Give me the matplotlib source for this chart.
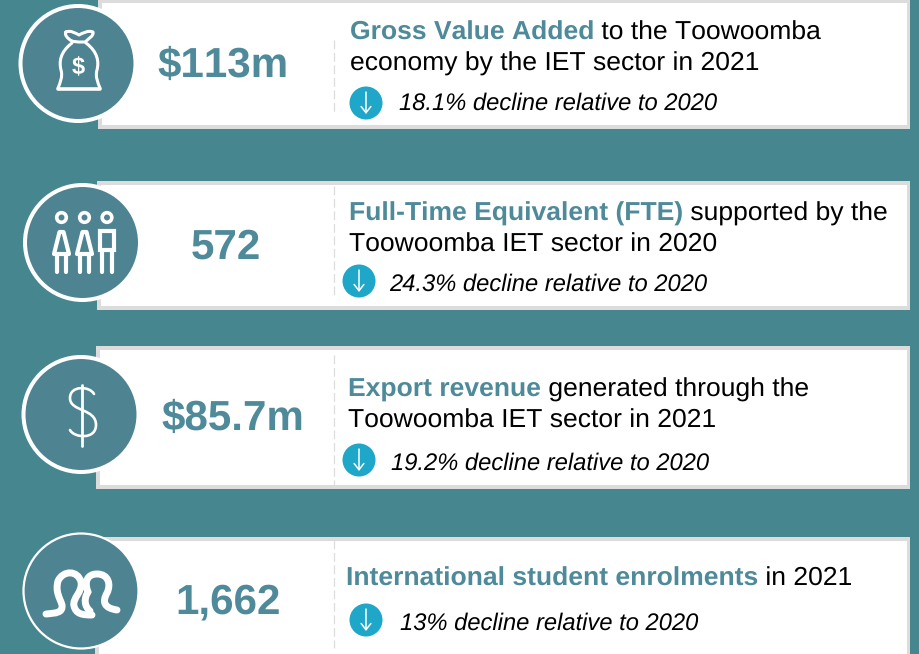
import matplotlib
matplotlib.use("Agg")
import matplotlib.pyplot as plt
from matplotlib.patches import Circle, Rectangle, PathPatch, Polygon
from matplotlib.path import Path

plt.rcParams['font.family'] = ['Liberation Sans', 'DejaVu Sans']
plt.rcParams['text.hinting'] = 'none'
plt.rcParams['text.hinting_factor'] = 8
plt.rcParams['text.kerning_factor'] = 8

TEAL = "#45868f"
CIRCLE = "#4e8391"
HIGHLIGHT = "#4e8a99"
GREY = "#dcdcdc"
BLUE = "#1fa7c9"

# card contents
values = ["$113m", "572", "$85.7m", "1,662"]
bold_text = ["Gross Value Added", "Full-Time Equivalent (FTE)", "Export revenue", "International student enrolments"]
rest_text = [" to the Toowoomba", " supported by the", " generated through the", " in 2021"]
second_line = ["economy by the IET sector in 2021", "Toowoomba IET sector in 2020", "Toowoomba IET sector in 2021", ""]
declines = ["18.1% decline relative to 2020", "24.3% decline relative to 2020",
            "19.2% decline relative to 2020", "13% decline relative to 2020"]

# layout, all in pixels of the 919x654 picture
card_left = [98, 97, 96, 95]
card_top = [-1, 181, 346, 537]
card_bottom = [129, 310, 489, 670]
circle_x = [78, 82.5, 81, 81]
circle_y = [63.5, 242.5, 414.5, 591]
circle_lw = [2.9, 2.9, 2.9, 1.6]
value_x = [223, 226, 233, 228]
value_y = [77, 259, 430, 614]
text_x = [350, 349, 348, 346]
line1_y = [40, 221, 397, 586]
line2_y = [71, 252, 428, 0]
arrow_x = [366, 359, 359, 366]
arrow_y = [103, 281, 460, 620]
decline_x = [399, 389, 391, 400]
decline_y = [110, 291, 470, 630]
dash_top = [40, 186, 355, 540]
dash_bottom = [114, 298, 485, 648]


def curve(ax, verts, lw):
    codes = [Path.MOVETO] + [Path.CURVE4] * (len(verts) - 1)
    ax.add_patch(PathPatch(Path(verts, codes), fill=False, ec="white", lw=lw,
                           capstyle="round", joinstyle="round", zorder=5))


def money_bag(ax):
    # tied top
    curve(ax, [(66, 32), (71, 30), (75, 33), (79, 35), (83, 33), (88, 30), (93, 32),
               (94, 36), (88, 39), (85, 42), (75, 42), (72, 42), (69, 39), (65, 36), (65, 33), (66, 32)], 2.2)
    # sides
    curve(ax, [(72, 43), (60, 52), (59, 62), (61, 70), (63, 77), (60, 83), (58, 88)], 2.2)
    curve(ax, [(86, 43), (98, 52), (99, 62), (97, 70), (95, 77), (98, 83), (100, 88)], 2.2)
    ax.plot([58, 100], [88.5, 88.5], color="white", lw=2.6, solid_capstyle="round", zorder=5)
    ax.text(78.5, 68, "$", color="white", fontsize=17, fontweight="bold", ha="center", va="center", zorder=5)


def people(ax):
    for cx in [61.5, 84.5, 107]:
        ax.add_patch(Circle((cx, 217.5), 4.8, fc="none", ec="white", lw=2.6, zorder=5))
    for cx in [61.5, 84.5]:
        ax.add_patch(Polygon([(cx - 2, 232), (cx + 2, 232), (cx + 7.5, 254), (cx - 7.5, 254)], closed=True,
                             fc="none", ec="white", lw=3, joinstyle="round", zorder=5))
    ax.add_patch(Rectangle((100, 231), 14, 19, fc="none", ec="white", lw=3, zorder=5))
    for cx, top in zip([57, 66, 80, 89, 102, 112], [254, 254, 254, 254, 250, 250]):
        ax.plot([cx, cx], [top, 272], color="white", lw=3, solid_capstyle="round", zorder=5)


def dollar(ax):
    curve(ax, [(94, 394), (90, 386), (70, 385), (70, 398), (70, 412), (96, 408), (96, 425),
               (96, 440), (74, 438), (70, 430)], 1.9)
    ax.plot([82, 82], [385, 446], color="white", lw=2, solid_capstyle="round", zorder=5)


def loops(ax):
    curve(ax, [(46, 614), (56, 613), (63, 613), (62, 605), (60, 598), (55, 592), (58, 581),
               (63, 570), (78, 570), (81, 582), (83, 592), (72, 598), (74, 606),
               (76, 614), (82, 615), (92, 615)], 5)
    curve(ax, [(90, 611), (84, 606), (84, 598), (88, 592)], 5)
    curve(ax, [(88, 592), (84, 582), (87, 574), (97, 574), (109, 574), (111, 585), (107, 593),
               (102, 602), (104, 608), (117, 610)], 5)


icons = [money_bag, people, dollar, loops]

fig = plt.figure(figsize=(9.19, 6.54), dpi=100, facecolor=TEAL)
ax = fig.add_axes([0, 0, 1, 1])
ax.set_xlim(0, 919)
ax.set_ylim(654, 0)
ax.axis("off")

renderer = fig.canvas.get_renderer()

for i in range(4):
    # card with grey edge
    ax.add_patch(Rectangle((card_left[i], card_top[i]), 910 - card_left[i], card_bottom[i] - card_top[i],
                           fc=GREY, ec="none", zorder=1))
    ax.add_patch(Rectangle((card_left[i] + 4, card_top[i] + 4), 907 - card_left[i] - 4,
                           card_bottom[i] - card_top[i] - 8, fc="white", ec="none", zorder=2))
    ax.plot([333.5, 333.5], [dash_top[i], dash_bottom[i]], color="#dddddd", lw=0.9,
            dashes=(7, 3), zorder=3)

    # icon circle
    ax.add_patch(Circle((circle_x[i], circle_y[i]), 57.5, fc=CIRCLE, ec="white", lw=circle_lw[i], zorder=4))
    icons[i](ax)

    ax.text(value_x[i], value_y[i], values[i], color=HIGHLIGHT, fontsize=30.3, fontweight="bold",
            ha="center", va="baseline", zorder=3)

    # first line: bold part then normal part straight after it
    t = ax.text(text_x[i], line1_y[i], bold_text[i], color=HIGHLIGHT, fontsize=19.05, fontweight="bold",
                va="baseline", zorder=3)
    end = t.get_window_extent(renderer).x1
    ax.text(end, line1_y[i], rest_text[i], color="black", fontsize=19.05, va="baseline", zorder=3)
    if second_line[i]:
        ax.text(text_x[i], line2_y[i], second_line[i], color="black", fontsize=19.05, va="baseline", zorder=3)

    # decline badge
    ax.add_patch(Circle((arrow_x[i], arrow_y[i]), 16.5, fc=BLUE, ec="none", zorder=3))
    ax.annotate("", xy=(arrow_x[i], arrow_y[i] + 11), xytext=(arrow_x[i], arrow_y[i] - 11),
                arrowprops=dict(arrowstyle="->,head_length=0.45,head_width=0.35", color="white", lw=1.1,
                                shrinkA=0, shrinkB=0), zorder=4)
    ax.text(decline_x[i], decline_y[i], declines[i], color="black", fontsize=17.15, style="italic",
            va="baseline", zorder=3)

fig.savefig("out.png", dpi=100, facecolor=TEAL)
